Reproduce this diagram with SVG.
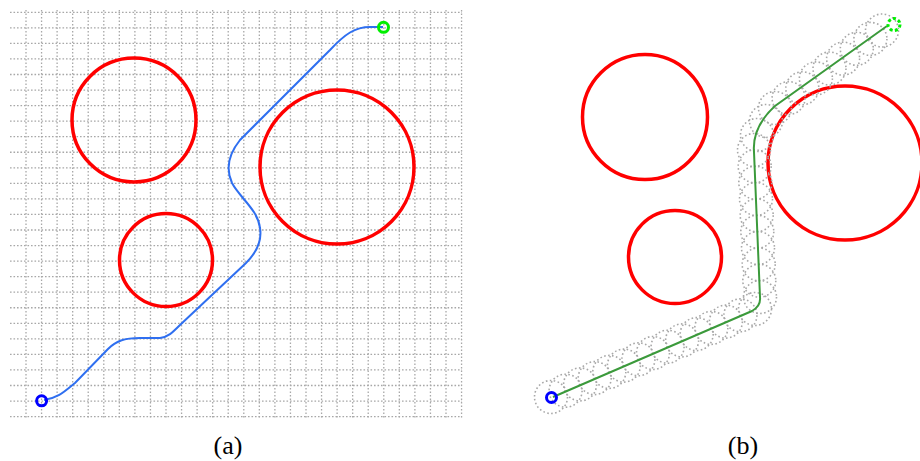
<svg xmlns="http://www.w3.org/2000/svg" width="920" height="461" viewBox="0 0 920 461">
<style>
.grid{fill:none;stroke:#a8a8a8;stroke-width:1.3;stroke-dasharray:1.6 1.9}
.obs{fill:none;stroke:#ff0000;stroke-width:3.5}
.lbl{font-family:"Liberation Serif","Times New Roman",serif;font-size:26px;fill:#000;text-anchor:middle}
.start{fill:none;stroke:#0000ff;stroke-width:3}
.goal{fill:none;stroke:#00ee00;stroke-width:3}
</style>
<defs>
<marker id="disc" markerUnits="userSpaceOnUse" markerWidth="40" markerHeight="40" refX="20" refY="20" overflow="visible">
<circle cx="20" cy="20" r="16.5" fill="none" stroke="#a8a8a8" stroke-width="1.6" stroke-dasharray="1.6 2.4"/>
</marker>
</defs>
<rect width="920" height="461" fill="#fff"/>
<g id="grid-a">
<path class="grid" d="M26 10v408M41.56 10v408M57.11 10v408M72.67 10v408M88.22 10v408M103.78 10v408M119.33 10v408M134.89 10v408M150.44 10v408M166 10v408M181.56 10v408M197.11 10v408M212.67 10v408M228.22 10v408M243.78 10v408M259.33 10v408M274.89 10v408M290.44 10v408M306 10v408M321.56 10v408M337.11 10v408M352.67 10v408M368.22 10v408M383.78 10v408M399.33 10v408M414.89 10v408M430.44 10v408M446 10v408M461.56 10v408"/>
<path class="grid" d="M10 12.3h452M10 27.85h452M10 43.4h452M10 58.95h452M10 74.5h452M10 90.05h452M10 105.6h452M10 121.15h452M10 136.7h452M10 152.25h452M10 167.8h452M10 183.35h452M10 198.9h452M10 214.45h452M10 230h452M10 245.55h452M10 261.1h452M10 276.65h452M10 292.2h452M10 307.75h452M10 323.3h452M10 338.85h452M10 354.4h452M10 369.95h452M10 385.5h452M10 401.05h452M10 416.6h452"/>
</g>
<g id="obstacles-a">
<circle id="a-obs1" class="obs" cx="134" cy="120" r="62" stroke-width="4"/>
<circle id="a-obs2" class="obs" cx="337" cy="167" r="77" stroke-width="4"/>
<circle id="a-obs3" class="obs" cx="166" cy="260" r="46.5" stroke-width="4"/>
</g>
<g id="obstacles-b">
<circle id="b-obs1" class="obs" cx="645" cy="117" r="62.5"/>
<circle id="b-obs2" class="obs" cx="845" cy="163" r="77"/>
<circle id="b-obs3" class="obs" cx="675" cy="257" r="46.5"/>
</g>
<g id="connectors">
<path id="path-a" fill="none" stroke="#2f6ff0" stroke-width="2" d="M44 400C58 398 64 392 75 383L108 349C116 341 124 338 140 338L160 338C168 337 172 333 180 325L246 263C257 252 262 240 260 228C258 210 240 198 232 183C226 170 228 155 240 140L330 50C345 34 355 27 370 27L383 27"/>
<path id="tube-b" fill="none" stroke="none" marker-start="url(#disc)" marker-mid="url(#disc)" marker-end="url(#disc)" d="M551 397L565.6 390.7L580.1 384.4L594.7 378.1L609.3 371.9L623.9 365.6L638.4 359.3L653 353L667.6 346.7L682.1 340.4L696.7 334.1L711.3 327.9L725.9 321.6L740.4 315.3L755 309L760 297L759.3 280.7L758.7 264.3L758 248L757.3 231.7L756.7 215.3L756 199L755.3 182.7L754.7 166.3L754 150L757 135L766 121L775 108L788.6 98.1L802.3 88.3L815.9 78.4L829.5 68.5L843.1 58.6L856.8 48.8L870.4 38.9L882 30.5"/>
<path id="path-b" fill="none" stroke="#3b9a3b" stroke-width="2" d="M553 397L752 311Q761 306 760 297L754 152Q752 127 775 106L887 26"/>
</g>
<g id="start-a"><circle class="start" cx="41.6" cy="400.8" r="5"/></g>
<g id="goal-a"><circle class="goal" cx="383.5" cy="27.3" r="5"/></g>
<g id="start-b"><circle class="start" cx="551.5" cy="397.5" r="5"/></g>
<g id="goal-b"><circle class="goal" cx="894" cy="24.5" r="6" stroke-dasharray="3 2.3"/></g>
<text class="lbl" x="228" y="454">(a)</text>
<text class="lbl" x="743" y="454">(b)</text>
</svg>
